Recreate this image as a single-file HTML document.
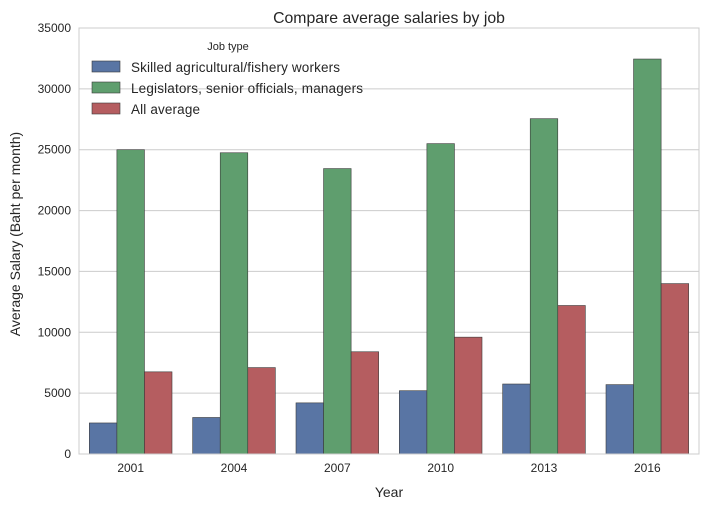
<!DOCTYPE html>
<html><head><meta charset="utf-8"><style>
body{margin:0;background:#fff;}
svg{display:block;font-family:"Liberation Sans",Arial,sans-serif;}
</style></head><body>
<svg width="709" height="509">
<g id="grid"></g>
<g id="bars"></g>
<rect x="79" y="28" width="620" height="426" fill="none" stroke="#cccccc" stroke-width="1"/>
<g id="yticks"></g>
<g id="xticks"></g>
<text x="389" y="23" text-anchor="middle" font-size="15.8" fill="#262626">Compare average salaries by job</text>
<text x="389" y="497" text-anchor="middle" font-size="14" fill="#262626">Year</text>
<text transform="translate(20,234) rotate(-90)" text-anchor="middle" font-size="14" fill="#262626">Average Salary (Baht per month)</text>
<g id="legend">
<text x="228" y="50" text-anchor="middle" font-size="11" fill="#262626">Job type</text>
</g>
</svg>
<script>
const categories=["2001","2004","2007","2010","2013","2016"];
const seriesNames=["Skilled agricultural/fishery workers","Legislators, senior officials, managers","All average"];
const skilled=[2550,3000,4200,5200,5750,5700];
const legislators=[25000,24750,23450,25500,27550,32450];
const allAverage=[6750,7100,8400,9600,12200,14000];
const yTicks=[0,5000,10000,15000,20000,25000,30000,35000];
const colors=["#5975a4","#5f9e6e","#b55d60"];
const NS="http://www.w3.org/2000/svg";
const L=79,R=699,T=28,B=454,YMAX=35000;
const y=v=>B-(v/YMAX)*(B-T);
const gw=(R-L)/categories.length, bw=gw*0.8/3;
const x=i=>L+gw*i+gw/2;
function mk(tag,attrs,parent){const e=document.createElementNS(NS,tag);for(const k in attrs)e.setAttribute(k,attrs[k]);parent.appendChild(e);return e;}
const grid=document.getElementById('grid'),yt=document.getElementById('yticks'),xt=document.getElementById('xticks'),bars=document.getElementById('bars'),leg=document.getElementById('legend');
yTicks.forEach(v=>{
 const l=mk('line',{x1:L,x2:R,y1:y(v),y2:y(v),stroke:'#cccccc','stroke-width':1},grid);
 
 
 const t=mk('text',{x:L-8,y:y(v)+4,'text-anchor':'end','font-size':12,fill:'#262626'},yt);
 t.textContent=v;
 
 
});
const series=[skilled,legislators,allAverage];
categories.forEach((c,i)=>{
 const t=mk('text',{x:x(i),y:B+18,'text-anchor':'middle','font-size':12,fill:'#262626'},xt);
 t.textContent=c;
 
 
 series.forEach((s,k)=>{
  const bx=x(i)-1.5*bw+k*bw;
  const r=mk('rect',{x:bx,y:y(s[i]),width:bw,height:B-y(s[i]),fill:colors[k],stroke:'#3a3a3a','stroke-width':0.6},bars);
  
  
 });
});
const legendWidths=[209,232,69];
seriesNames.forEach((n,k)=>{
 const yy=61+k*21;
 const r=mk('rect',{x:92,y:yy,width:28,height:11,fill:colors[k],stroke:'#3a3a3a','stroke-width':0.6},leg);
 
 
 const t=mk('text',{x:131,y:yy+11,'font-size':13.5,fill:'#262626',textLength:legendWidths[k]},leg);
 t.textContent=n;
 
 
});
</script>
</body></html>
